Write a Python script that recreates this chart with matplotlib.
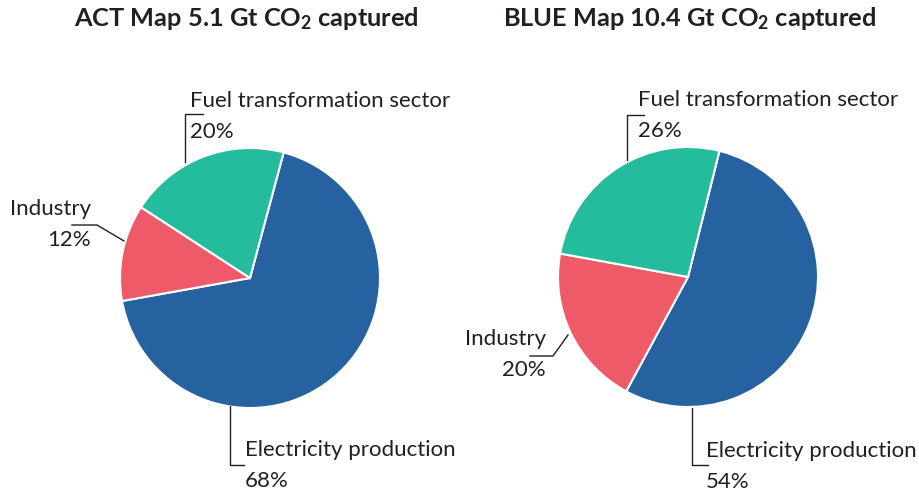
import matplotlib.pyplot as plt

# data
sectors = ['Electricity production', 'Industry', 'Fuel transformation sector']
act_share = [68, 12, 20]
blue_share = [54, 20, 26]
colors = ['#26629f', '#ef5a68', '#24bc9c']
titles = ['ACT Map 5.1 Gt CO$_2$ captured', 'BLUE Map 10.4 Gt CO$_2$ captured']

plt.rcParams['font.family'] = ['Lato', 'DejaVu Sans']
plt.rcParams['mathtext.fontset'] = 'custom'
plt.rcParams['mathtext.bf'] = 'Lato:bold'
plt.rcParams['mathtext.rm'] = 'Lato:bold'
plt.rcParams['mathtext.default'] = 'bf'

W, H = 920, 494
fig = plt.figure(figsize=(W / 100, H / 100), dpi=100)
ax = fig.add_axes([0, 0, 1, 1])
ax.axis('off')

txt = '#231f20'
fs = 16
tfs = 18.3


def Y(y):
    # pixel row -> data y
    return H - y


def draw_pie(cx, cy, values, start):
    ax.pie(values, colors=colors, startangle=start, counterclock=False,
           center=(cx, Y(cy)), radius=130,
           wedgeprops=dict(edgecolor='white', linewidth=1.5))


def label(name, pct, pts, tx, ty, ha='left'):
    xs = [p[0] for p in pts]
    ys = [Y(p[1]) for p in pts]
    ax.plot(xs, ys, color=txt, lw=1.0)
    ax.text(tx, Y(ty), name, ha=ha, va='center', fontsize=fs, color=txt)
    ax.text(tx, Y(ty + 31), f'{pct}%', ha=ha, va='center', fontsize=fs,
            color=txt)


# left pie
draw_pie(250, 278, act_share, 75)
ax.text(246, Y(19), titles[0], ha='center', va='center', fontsize=tfs,
        fontweight='bold', color=txt)
label(sectors[2], act_share[2], [(185, 162), (185, 114), (203, 114)], 190, 101)
label(sectors[1], act_share[1], [(124, 241), (97, 225), (72, 225)], 91, 209,
      ha='right')
label(sectors[0], act_share[0], [(230, 406), (230, 465), (244, 465)], 245, 450)

# right pie
draw_pie(688, 277, blue_share, 76)
ax.text(690, Y(19), titles[1], ha='center', va='center', fontsize=tfs,
        fontweight='bold', color=txt)
label(sectors[2], blue_share[2], [(627, 160), (627, 115), (644, 115)], 638, 100)
label(sectors[1], blue_share[1], [(568, 335), (553, 356), (530, 356)], 546, 339,
      ha='right')
label(sectors[0], blue_share[0], [(692, 408), (692, 465), (708, 465)], 706, 451)

ax.set_xlim(0, W)
ax.set_ylim(0, H)
ax.set_aspect('auto')
fig.savefig('out.png', dpi=100)
